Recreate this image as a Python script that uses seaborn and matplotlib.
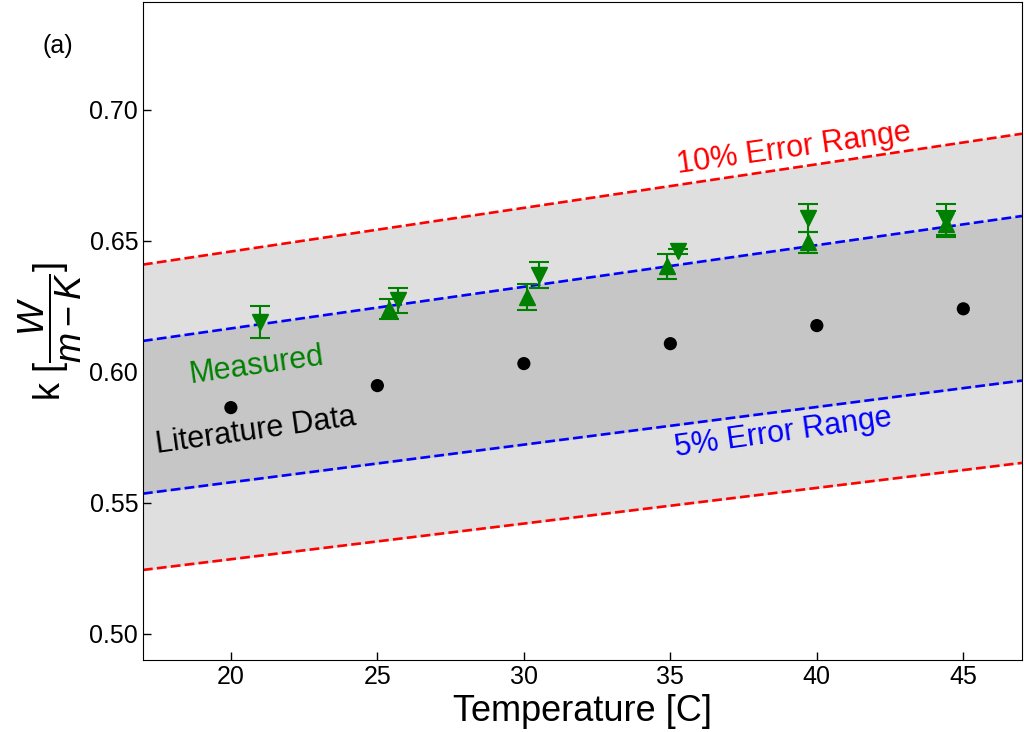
import numpy as np
import pandas as pd
import matplotlib
matplotlib.use("Agg")
import matplotlib.pyplot as plt
import seaborn as sns

# literature data
lit_T = [20, 25, 30, 35, 40, 45]
lit_k = [0.5863, 0.5947, 0.6031, 0.6107, 0.6176, 0.6240]

# measured data (two runs per temperature)
up_T = [25.4, 30.1, 34.9, 39.7, 44.4]
up_k = [0.6239, 0.6284, 0.6403, 0.6494, 0.6565]
up_err = [0.0037, 0.0050, 0.0048, 0.0040, 0.0050]
down_T = [21.0, 25.7, 30.5, 35.25, 39.7, 44.4]
down_k = [0.6190, 0.6273, 0.6370, 0.6460, 0.6588, 0.6580]
down_err = [0.0060, 0.0048, 0.0050, 0.0010, 0.0053, 0.0060]

sns.set_style("ticks")
plt.rcParams['font.family'] = ['Liberation Sans', 'DejaVu Sans']
plt.rcParams['mathtext.fontset'] = 'custom'
plt.rcParams['mathtext.it'] = 'Liberation Sans:italic'
plt.rcParams['mathtext.rm'] = 'Liberation Sans'
for key in ['text.color', 'axes.labelcolor', 'xtick.color', 'ytick.color', 'axes.edgecolor']:
    plt.rcParams[key] = 'black'

fig = plt.figure(figsize=(10.25, 7.32), dpi=100)
ax = fig.add_axes([0.1395, 0.0984, 0.8575, 0.8986])

# linear fit of literature data and error bands
coef = np.polyfit(lit_T, lit_k, 1)
xs = np.linspace(17, 47, 50)
fit = np.polyval(coef, xs)
ax.fill_between(xs, fit * 0.9, fit * 1.1, color="#dfdfdf", zorder=0)
ax.fill_between(xs, fit * 0.95, fit * 1.05, color="#c6c6c6", zorder=1)
for f, c in [(1.1, "red"), (0.9, "red"), (1.05, "blue"), (0.95, "blue")]:
    sns.lineplot(x=xs, y=fit * f, color=c, linestyle="--", linewidth=1.9, ax=ax, zorder=2)

lit = pd.DataFrame({"T": lit_T, "k": lit_k})
sns.scatterplot(data=lit, x="T", y="k", color="black", s=90, edgecolor="none", ax=ax, zorder=3)

ax.errorbar(up_T, up_k, yerr=up_err, fmt="^", color="green", markersize=11,
            capsize=7, elinewidth=1.5, capthick=1.5, zorder=4)
ax.errorbar(down_T, down_k, yerr=down_err, fmt="v", color="green", markersize=11,
            capsize=7, elinewidth=1.5, capthick=1.5, zorder=4)

ax.text(39.2, 0.6851, "10% Error Range", color="red", fontsize=22, rotation=8,
        ha="center", va="center")
ax.text(38.86, 0.5767, "5% Error Range", color="blue", fontsize=22, rotation=8,
        ha="center", va="center")
ax.text(20.89, 0.6023, "Measured", color="green", fontsize=22, rotation=8,
        ha="center", va="center")
ax.text(20.85, 0.5775, "Literature Data", color="black", fontsize=22, rotation=8,
        ha="center", va="center")
fig.text(0.056, 0.937, "(a)", fontsize=18, ha="center", va="center")

ax.set_xlim(17, 47)
ax.set_ylim(0.49, 0.741)
ax.set_xticks([20, 25, 30, 35, 40, 45])
ax.set_yticks([0.50, 0.55, 0.60, 0.65, 0.70])
ax.set_yticklabels(["0.50", "0.55", "0.60", "0.65", "0.70"])
ax.tick_params(direction="in", labelsize=18, length=6, width=1)
ax.set_xlabel("Temperature [C]", fontsize=26)
ax.set_ylabel(r"k [$\dfrac{W}{m-K}$]", fontsize=26)

fig.savefig("out.png", dpi=100)
